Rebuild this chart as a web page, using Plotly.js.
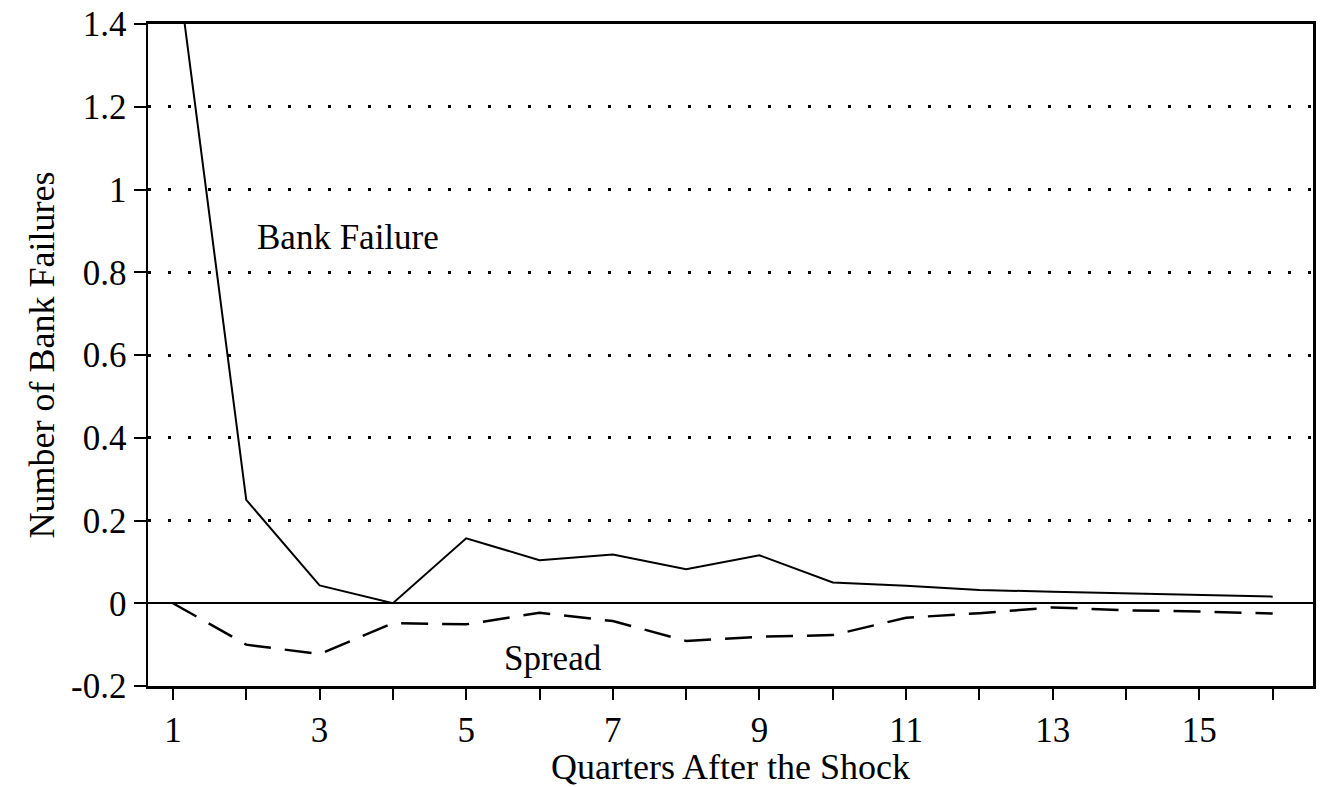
<!DOCTYPE html>
<html>
<head>
<meta charset="utf-8">
<script src="https://cdn.plot.ly/plotly-3.0.1.min.js"></script>
<style>html,body{margin:0;padding:0;background:#fff;}#chart{width:1325px;height:787px;}</style>
</head>
<body>
<div id="chart"></div>
<script>
const quarters = [1,2,3,4,5,6,7,8,9,10,11,12,13,14,15,16];
const bankFailure = [1.62,0.25,0.043,0.0,0.157,0.104,0.118,0.082,0.116,0.05,0.042,0.032,0.028,0.024,0.02,0.016];
const spread = [0,-0.10,-0.123,-0.048,-0.051,-0.023,-0.043,-0.091,-0.081,-0.077,-0.035,-0.024,-0.01,-0.017,-0.02,-0.025];
const xTickVals = [1,2,3,4,5,6,7,8,9,10,11,12,13,14,15,16];
const xTickText = ['1','','3','','5','','7','','9','','11','','13','','15',''];
const yTickVals = [-0.2,0,0.2,0.4,0.6,0.8,1,1.2,1.4];
const yTickText = ['-0.2','0','0.2','0.4','0.6','0.8','1','1.2','1.4'];

const fam = '"Liberation Serif", "DejaVu Serif", serif';
const tickFont = {family: fam, size: 35, color: '#000'};
const titleFont = {family: fam, size: 36, color: '#000'};
const noteFont = {family: fam, size: 35, color: '#000'};

const traces = [
  {x: quarters, y: bankFailure, type: 'scatter', mode: 'lines', name: 'Bank Failure',
   line: {color: '#000', width: 2}},
  {x: quarters, y: spread, type: 'scatter', mode: 'lines', name: 'Spread',
   line: {color: '#000', width: 2.5, dash: '27px,14px'}}
];

const layout = {
  width: 1325, height: 787,
  margin: {l: 148, r: 12, t: 24, b: 101},
  paper_bgcolor: '#fff', plot_bgcolor: '#fff',
  font: tickFont,
  showlegend: false,
  xaxis: {
    range: [0.66, 16.55],
    tickvals: xTickVals, ticktext: xTickText,
    ticks: 'outside', ticklen: 11, tickwidth: 2, tickcolor: '#000',
    showline: true, linecolor: '#000', linewidth: 3, mirror: true,
    showgrid: false, zeroline: false,
    tickfont: tickFont,
    ticklabelstandoff: 0,
    title: {text: 'Quarters After the Shock', font: titleFont, standoff: 0}
  },
  yaxis: {
    range: [-0.2, 1.4],
    tickvals: yTickVals, ticktext: yTickText,
    ticks: 'outside', ticklen: 12, tickwidth: 2, tickcolor: '#000',
    showline: true, linecolor: '#000', linewidth: 2.5, mirror: true,
    showgrid: true, gridcolor: '#000', gridwidth: 3, griddash: '3px,17px',
    zeroline: true, zerolinecolor: '#000', zerolinewidth: 2,
    tickfont: tickFont,
    ticklabelstandoff: 0,
    title: {text: 'Number of Bank Failures', font: titleFont, standoff: 6}
  },
  annotations: [
    {x: 2.12, y: 0.885, xref: 'x', yref: 'y', text: 'Bank Failure', showarrow: false,
     xanchor: 'left', yanchor: 'middle', font: noteFont},
    {x: 5.49, y: -0.133, xref: 'x', yref: 'y', text: 'Spread', showarrow: false,
     xanchor: 'left', yanchor: 'middle', font: noteFont}
  ]
};

Plotly.newPlot('chart', traces, layout, {displayModeBar: false, staticPlot: true});
</script>
</body>
</html>
